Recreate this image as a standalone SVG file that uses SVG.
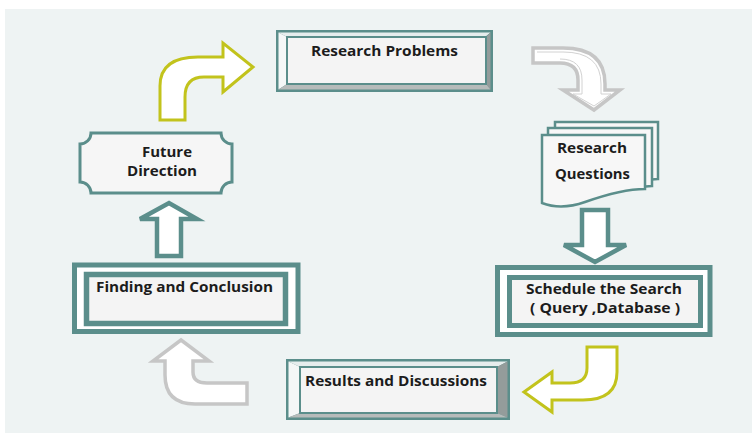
<svg xmlns="http://www.w3.org/2000/svg" width="752" height="440" viewBox="0 0 752 440">
  <defs>
    <style>
      .lbl { font-family: "Open Sans", "Liberation Sans", sans-serif; font-weight: 700; font-size: 14px; fill: #1c1c1c; text-anchor: middle; }
      .face { fill: #f4f4f4; }
      .yel { fill: #ffffff; stroke: #c2c31c; stroke-width: 3; stroke-linejoin: miter; }
      .gry { fill: #ffffff; stroke: #c6c6c6; stroke-width: 3.5; stroke-linejoin: miter; }
      .gry-in { fill: none; stroke: #d2d2d2; stroke-width: 1; }
      .tarrow { fill: #ffffff; stroke: #5b8e8b; stroke-width: 4.5; stroke-linejoin: miter; }
    </style>
  </defs>

  <!-- backdrop -->
  <rect x="0" y="0" width="752" height="440" fill="#ffffff"/>
  <rect x="5" y="9" width="747" height="424" fill="#eef3f3"/>

  <!-- connectors -->
  <g id="connectors">
    <!-- bent arrow: Future Direction -> Research Problems -->
    <path class="yel" d="M160,120 L160,86 Q160,57 198,57 L223,57 L223,43 L253,67 L223,92 L223,77 L204,77 Q185,77 185,97 L185,120 Z"/>
    <!-- curved arrow: Research Problems -> Research Questions -->
    <path class="gry" d="M533,48 L563,48 Q605,48 605,84 L605,90 L620,90 L594,110 L563,90 L578,90 L578,80 Q578,63 560,63 L533,63 Z"/>
    <path class="gry-in" d="M537,52 L563,52 Q601,52 601,84 L601,94 L611,94 L594,106 L573,94 L582,94 L582,80 Q582,59 560,59"/>
    <!-- block arrow: Research Questions -> Schedule the Search -->
    <path class="tarrow" d="M582,210 L608,210 L608,245 L626,245 L595,262 L564,245 L582,245 Z"/>
    <!-- bent arrow: Schedule the Search -> Results and Discussions -->
    <path class="yel" d="M587,347 L617,347 L617,372 Q617,400 583,400 L552,400 L552,412 L524,392 L552,372 L552,383 L570,383 Q587,383 587,368 Z"/>
    <!-- bent arrow: Results and Discussions -> Finding and Conclusion -->
    <path class="gry" d="M181,340 L209,361 L193,361 L193,372 Q193,383 207,383 L247,383 L247,404 L195,404 Q165,404 165,375 L165,361 L153,361 Z"/>
    <!-- block arrow: Finding and Conclusion -> Future Direction -->
    <path class="tarrow" d="M157,256 L181,256 L181,219 L197,219 L169,203 L140,219 L157,219 Z"/>
  </g>

  <!-- Research Problems -->
  <g id="research-problems">
    <rect x="276" y="30" width="217" height="62" fill="#5b8e8b"/>
    <polygon points="278.5,32.5 490.5,32.5 485,37 287,37" fill="#e6eded"/>
    <polygon points="278.5,32.5 287,37 287,84 278.5,89.5" fill="#f4f7f7"/>
    <polygon points="490.5,32.5 490.5,89.5 486,84 486,37" fill="#949c9b"/>
    <polygon points="278.5,89.5 490.5,89.5 486,84 287,84" fill="#b6bbba"/>
    <rect class="face" x="287" y="37" width="199" height="47" stroke="#5b8e8b" stroke-width="2"/>
    <text class="lbl" x="384.5" y="56" textLength="147" lengthAdjust="spacingAndGlyphs">Research Problems</text>
  </g>

  <!-- Research Questions -->
  <g id="research-questions">
    <path d="M555,122 L658,122 L658,179 C652,179 648,180 644,181 L555,181 Z" fill="#f7f7f7" stroke="#5b8e8b" stroke-width="2.5"/>
    <path d="M548,128 L652,128 L652,186 C646,186 642,187 638,188 L548,188 Z" fill="#f7f7f7" stroke="#5b8e8b" stroke-width="2.5"/>
    <path d="M542,135 L645,135 L645,189 C625,189 605,195 585,202 C568,208 555,208 542,203 Z" fill="#f7f7f7" stroke="#5b8e8b" stroke-width="2.5"/>
    <text class="lbl" x="592" y="153" textLength="70" lengthAdjust="spacingAndGlyphs">Research</text>
    <text class="lbl" x="592.5" y="179" textLength="75" lengthAdjust="spacingAndGlyphs">Questions</text>
  </g>

  <!-- Schedule the Search -->
  <g id="schedule-search">
    <rect x="497.5" y="267.5" width="212.5" height="67" fill="#ffffff" stroke="#5b8e8b" stroke-width="5"/>
    <rect class="face" x="509.5" y="277.5" width="191" height="48" stroke="#5b8e8b" stroke-width="5"/>
    <text class="lbl" x="604" y="294" textLength="156" lengthAdjust="spacingAndGlyphs">Schedule the Search</text>
    <text class="lbl" x="605" y="313" textLength="150" lengthAdjust="spacingAndGlyphs">( Query ,Database )</text>
  </g>

  <!-- Results and Discussions -->
  <g id="results-discussions">
    <rect x="286" y="359" width="224" height="61" fill="#5b8e8b"/>
    <polygon points="288.5,361.5 507.5,361.5 497,367 300,367" fill="#e6eded"/>
    <polygon points="288.5,361.5 300,367 300,413 288.5,417.5" fill="#f4f7f7"/>
    <polygon points="507.5,361.5 507.5,417.5 497,413 497,367" fill="#949c9b"/>
    <polygon points="288.5,417.5 507.5,417.5 497,413 300,413" fill="#b6bbba"/>
    <rect class="face" x="300" y="367" width="197" height="46" stroke="#5b8e8b" stroke-width="2"/>
    <text class="lbl" x="396" y="386" textLength="182" lengthAdjust="spacingAndGlyphs">Results and Discussions</text>
  </g>

  <!-- Finding and Conclusion -->
  <g id="finding-conclusion">
    <rect x="74.5" y="265" width="223.5" height="66.5" fill="#ffffff" stroke="#5b8e8b" stroke-width="5"/>
    <rect class="face" x="86.5" y="274.5" width="199" height="49" stroke="#5b8e8b" stroke-width="5.5"/>
    <text class="lbl" x="184.5" y="292" textLength="177" lengthAdjust="spacingAndGlyphs">Finding and Conclusion</text>
  </g>

  <!-- Future Direction -->
  <g id="future-direction">
    <path d="M91,133 L221,133 A11,11 0 0 0 232,144 L232,182 A11,11 0 0 0 221,193 L91,193 A11,11 0 0 0 80,182 L80,144 A11,11 0 0 0 91,133 Z" fill="#f6f6f6" stroke="#5b8e8b" stroke-width="3"/>
    <text class="lbl" x="167" y="157" textLength="50" lengthAdjust="spacingAndGlyphs">Future</text>
    <text class="lbl" x="162" y="176" textLength="70" lengthAdjust="spacingAndGlyphs">Direction</text>
  </g>
</svg>
